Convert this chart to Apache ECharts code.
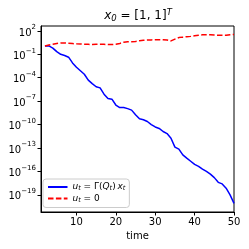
<!DOCTYPE html>
<html><head><meta charset="utf-8">
<script src="https://cdn.jsdelivr.net/npm/echarts@6/dist/echarts.min.js"></script>
<style>html,body{margin:0;padding:0;background:#fff}#c{width:249px;height:249px}</style>
</head><body><div id="c"></div>
<script>
const times = [2,3,4,5,6,7,8,9,10,11,12,13,14,15,16,17,18,19,20,21,22,23,24,25,26,27,28,29,30,31,32,33,34,35,36,37,38,39,40,41,42,43,44,45,46,47,48,49,50];
const controlled = [1.2,1.2,0.63,0.22,0.1,0.071,0.043,7.9e-3,2.2e-3,7.9e-4,2.8e-4,5.0e-5,1.8e-5,7.1e-6,5.0e-6,7.9e-7,2.2e-7,1.8e-7,3.2e-8,1.5e-8,1.5e-8,1.1e-8,7.1e-9,1.8e-9,5.6e-10,4.2e-10,2.5e-10,1.0e-10,5.0e-11,3.2e-11,1.3e-11,7.1e-12,1.8e-12,1.3e-13,7.1e-14,1.3e-14,5.0e-15,2.0e-15,7.9e-16,4.5e-16,2.0e-16,1.0e-16,4.5e-17,1.6e-17,4.0e-18,2.5e-18,7.1e-19,1.0e-19,7.9e-21];
const uncontrolled = [1.2,1.6,2.0,2.5,2.8,2.8,2.6,2.4,2.2,2.1,2.0,1.9,1.8,1.9,2.0,1.9,1.8,1.8,1.9,2.5,3.5,4.0,4.2,4.5,5.6,6.3,6.8,7.1,7.4,7.6,7.4,6.8,5.2,8.9,14,16,18,20,24,28,32,32,32,30,28,28,27,32,35];
const xTicks = [10,20,30,40,50];
const yTicks = [1e-19,1e-16,1e-13,1e-10,1e-7,1e-4,1e-1,1e2];
const seriesNames = ['controlled','zero'];

const FONT = 'DejaVu Sans';
const chart = echarts.init(document.getElementById('c'), null, {renderer:'canvas'});
const pair = (xs, ys) => xs.map((x,i)=>[x, ys[i]]);
function sup(v){
  const e = Math.round(Math.log10(v));
  return '{b|10}{s|' + String(e).replace('-', '\u2212') + '}';
}
chart.setOption({
  animation:false,
  backgroundColor:'#fff',
  grid:{left:41,right:15,top:26,bottom:37,show:true,borderColor:'#000',borderWidth:1,backgroundColor:'transparent'},
  graphic:[{type:'text',x:138,y:16,style:{
    text:'{i|x}{sub|0}{n| = [1, 1]}{sup|T}',align:'center',verticalAlign:'middle',
    font:'12px DejaVu Sans',fill:'#000',
    rich:{
      i:{fontFamily:FONT,fontSize:12,fontStyle:'italic',fill:'#000'},
      n:{fontFamily:FONT,fontSize:12,fill:'#000'},
      sub:{fontFamily:FONT,fontSize:8.5,fontStyle:'italic',fill:'#000',verticalAlign:'bottom',padding:[6,0,0,0]},
      sup:{fontFamily:FONT,fontSize:8.5,fontStyle:'italic',fill:'#000',verticalAlign:'top',padding:[0,0,6,0]}
    }}}],
  xAxis:{type:'value',min:1,max:50,
    name:'time',nameLocation:'middle',nameGap:19,
    nameTextStyle:{fontFamily:FONT,fontSize:10,color:'#000'},
    axisLine:{show:true,onZero:false,lineStyle:{color:'#000',width:1}},
    axisTick:{show:true,length:3.5,lineStyle:{color:'#000'},customValues:xTicks},
    axisLabel:{fontFamily:FONT,fontSize:10,color:'#000',margin:5,customValues:xTicks},
    splitLine:{show:false}},
  yAxis:{type:'log',logBase:10,min:Math.pow(10,-21.2),max:Math.pow(10,2.63),
    axisLine:{show:true,lineStyle:{color:'#000',width:1}},
    axisTick:{show:true,length:3.5,lineStyle:{color:'#000'},customValues:yTicks},
    axisLabel:{fontFamily:FONT,fontSize:10,color:'#000',margin:5,customValues:yTicks,
      formatter:sup,
      rich:{b:{fontFamily:FONT,fontSize:10,color:'#000',verticalAlign:'bottom',lineHeight:14},
            s:{fontFamily:FONT,fontSize:7,color:'#000',verticalAlign:'top',lineHeight:10}}},
    splitLine:{show:false}},
  legend:{left:43,top:179,orient:'vertical',itemGap:1.5,itemWidth:19.5,itemHeight:8,
    padding:[3,4,4,4],
    backgroundColor:'rgba(255,255,255,0.8)',borderColor:'#cccccc',borderWidth:1,borderRadius:3,
    itemStyle:{opacity:0},
    data:seriesNames,
    formatter:function(n){
      return n==='controlled' ? '{i|u}{sb|t}{n| = Γ(}{i|Q}{sb|t}{n|)\u2009}{i|x}{sb|t}' : '{i|u}{sb|t}{n| = 0}';
    },
    textStyle:{fontFamily:FONT,fontSize:9,color:'#000',lineHeight:10,
      rich:{i:{fontFamily:FONT,fontSize:9,fontStyle:'italic',color:'#000',lineHeight:10},
            n:{fontFamily:FONT,fontSize:9,color:'#000',lineHeight:10},
            sb:{fontFamily:FONT,fontSize:6.5,fontStyle:'italic',color:'#000',verticalAlign:'bottom',padding:[3,0,0,0],lineHeight:10}}}},
  series:[
    {name:'controlled',type:'line',data:pair(times,controlled),symbol:'none',
     lineStyle:{color:'#0000ff',width:1.5},itemStyle:{color:'#0000ff'}},
    {name:'zero',type:'line',data:pair(times,uncontrolled),symbol:'none',
     lineStyle:{color:'#ff0000',width:1.5,type:[5.5,2.4]},itemStyle:{color:'#ff0000'}}
  ]
});
</script></body></html>
